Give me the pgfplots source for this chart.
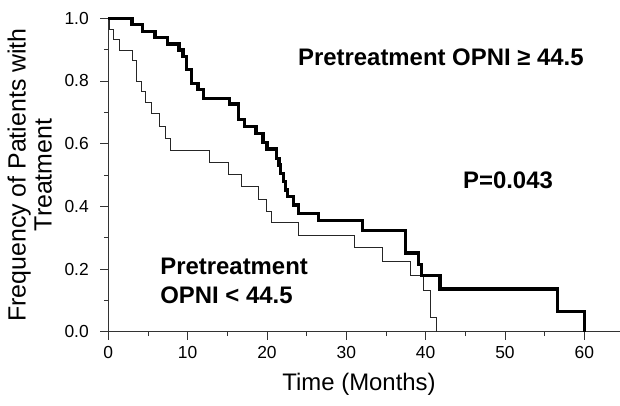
\documentclass[border=0pt]{standalone}
\usepackage{fontspec}
\setmainfont{Liberation Sans}
\usepackage{pgfplots}
\pgfplotsset{compat=1.18}
\usepackage{pgfplotstable}

\pgfplotstableread{
x y
0 1.0
3.0 0.981
4.3 0.959
5.9 0.939
7.5 0.918
8.9 0.899
9.4 0.877
9.9 0.836
10.5 0.793
11.3 0.772
12.0 0.745
15.3 0.727
16.4 0.678
17.2 0.655
18.6 0.632
19.5 0.604
20.0 0.583
21.2 0.553
21.5 0.532
21.7 0.505
22.1 0.479
22.3 0.452
22.6 0.431
23.3 0.404
24.0 0.378
26.5 0.355
32.0 0.323
37.5 0.251
39.1 0.214
39.5 0.179
41.8 0.136
56.6 0.065
60.0 0.0
}\highopni

\pgfplotstableread{
x y
0 1.0
0.1 0.965
0.63 0.931
1.4 0.899
3.0 0.864
3.6 0.800
4.2 0.768
4.7 0.733
5.5 0.695
6.5 0.655
7.2 0.617
7.8 0.579
12.8 0.539
15.1 0.501
16.8 0.462
18.9 0.422
19.9 0.385
20.6 0.348
24.0 0.306
31.0 0.269
34.5 0.223
38.1 0.178
39.7 0.133
40.6 0.046
41.3 0.0
}\lowopni

\begin{document}
\begin{tikzpicture}
\begin{axis}[
  scale only axis, width=511.7bp, height=313.4bp,
  xmin=0, xmax=64.5, ymin=0, ymax=1,
  axis lines=left,
  axis line style={-, line width=0.8pt, black!80},
  xtick={0,10,20,30,40,50,60},
  ytick={0,0.2,0.4,0.6,0.8,1.0},
  minor x tick num=1, minor y tick num=1,
  tick align=outside, major tick length=8bp, minor tick length=4.5bp,
  every tick/.style={black!80, line width=0.8pt},
  ticklabel style={font=\fontsize{17.5}{20}\selectfont},
  /pgf/number format/assume math mode=true,
  yticklabel style={xshift=-8bp, /pgf/number format/fixed, /pgf/number format/fixed zerofill, /pgf/number format/precision=1},
  xticklabel style={yshift=-3bp},
  xlabel={Time (Months)},
  xlabel style={font=\fontsize{24}{26}\selectfont, at={(axis description cs:0.49,-0.189)}, anchor=base, inner sep=0pt},
  ylabel={Frequency of Patients with\\Treatment},
  ylabel style={font=\fontsize{25}{26}\selectfont, align=center, at={(axis description cs:-0.110,0.5)}, anchor=south, inner sep=0pt},
  clip=false,
]
\addplot[const plot, black!85, line width=0.9pt] table[x=x, y=y] {\lowopni};
\addplot[const plot, black, line width=3.3pt] table[x=x, y=y] {\highopni};
\node[anchor=base west, inner sep=0pt, font=\fontsize{24}{26}\selectfont\bfseries] at (axis cs:23.9,0.848) {Pretreatment OPNI ≥ 44.5};
\node[anchor=base west, inner sep=0pt, font=\fontsize{24}{26}\selectfont\bfseries] at (axis cs:44.7,0.4576) {P=0.043};
\node[anchor=base west, inner sep=0pt, font=\fontsize{24}{26}\selectfont\bfseries] at (axis cs:6.54,0.181) {Pretreatment};
\node[anchor=base west, inner sep=0pt, font=\fontsize{24}{26}\selectfont\bfseries] at (axis cs:6.54,0.0884) {OPNI < 44.5};
\end{axis}
\pgfresetboundingbox
\path[use as bounding box] (-108.3bp,-74.3bp) rectangle (511.7bp,331.7bp);
\end{tikzpicture}
\end{document}
